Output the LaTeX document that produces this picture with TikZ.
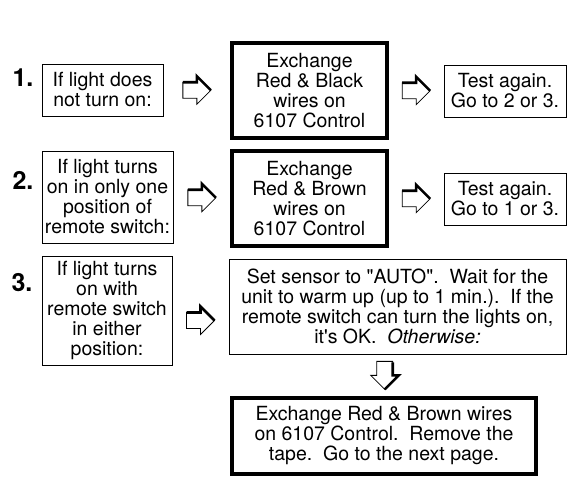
\documentclass[tikz,border=0pt]{standalone}
\usepackage{fontspec}
\newfontfamily\heros{TeX Gyre Heros}
\usetikzlibrary{calc,positioning}

\begin{document}
\begin{tikzpicture}[
    x=1pt, y=-1pt,
    box/.style={rectangle, draw, line width=0.9pt, align=center, inner sep=0pt, font=\heros\fontsize{19.5}{20}\selectfont},
    bigbox/.style={box, line width=3.5pt},
    num/.style={font=\heros\fontsize{25}{25}\selectfont\bfseries, inner sep=0pt},
    rarrow/.pic={
        \draw[line width=0.8pt] (-14,-8) -- (0,-8) -- (0,-14) -- (14,0) -- (0,14) -- (0,8) -- (-14,8) -- cycle;
        \draw[line width=2.6pt] (-14,-8) -- (0,-8) -- (0,-14) -- (14,0);
    },
    darrow/.pic={
        \draw[line width=0.8pt] (-8,-14) -- (8,-14) -- (8,0) -- (14,0) -- (0,14) -- (-14,0) -- (-8,0) -- cycle;
        \draw[line width=2.6pt] (8,-13) -- (8,0) -- (14,0) -- (0,14);
    }
]
\useasboundingbox (0,0) rectangle (584,488);

% step 1
\node[num] (n1) at (23,78) {1.};
\node[box, minimum width=121, minimum height=52] (q1) at (102.5,90) {If light does\\not turn on:};
\node[bigbox, minimum width=155, minimum height=95] (fix1) at (309.5,90.5) {Exchange\\Red \& Black\\wires on\\6107 Control};
\node[box, minimum width=122, minimum height=52] (test1) at (505,91) {Test again.\\Go to 2 or 3.};

% step 2
\node[num] (n2) at (23,180) {2.};
\node[box, minimum width=131, minimum height=92] (q2) at (107.5,197) {If light turns\\on in only one\\position of\\remote switch:};
\node[bigbox, minimum width=155, minimum height=95] (fix2) at (309.5,198.5) {Exchange\\Red \& Brown\\wires on\\6107 Control};
\node[box, minimum width=122, minimum height=52] (test2) at (505,199) {Test again.\\Go to 1 or 3.};

% step 3
\node[num] (n3) at (22,283) {3.};
\node[box, minimum width=130, minimum height=109] (q3) at (107,310.5) {If light turns\\on with\\remote switch\\in either\\position:};
\node[box, minimum width=337, minimum height=95] (auto) at (397.5,306.5) {Set sensor to "AUTO".\ \ Wait for the\\unit to warm up (up to 1 min.).\ \ If the\\remote switch can turn the lights on,\\it's OK.\ \ \textit{Otherwise:}};
\node[bigbox, minimum width=304, minimum height=76] (final) at (384,436) {Exchange Red \& Brown wires\\on 6107 Control.\ \ Remove the\\tape.\ \ Go to the next page.};

% block arrows
\pic at ($(q1.east)!0.5!(fix1.west)$) {rarrow};
\pic at ($(fix1.east)!0.5!(test1.west)$) {rarrow};
\pic at ($(q2.east)!0.5!(fix2.west)$) {rarrow};
\pic at ($(fix2.east)!0.5!(test2.west)$) {rarrow};
\pic at ($(q3.east)!0.5!(auto.west)+(0,12)$) {rarrow};
\pic at ($(auto.south)!0.5!(final.north)+(-6,0)$) {darrow};
\end{tikzpicture}
\end{document}
